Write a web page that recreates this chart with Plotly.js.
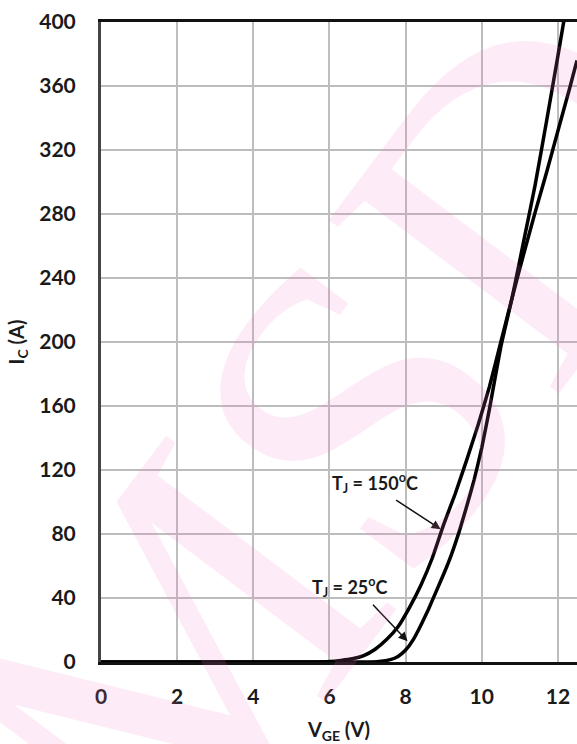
<!DOCTYPE html>
<html>
<head>
<meta charset="utf-8">
<script src="https://cdn.plot.ly/plotly-3.0.1.min.js"></script>
<style>
  html, body { margin: 0; padding: 0; background: #fff; }
  #chart { width: 577px; height: 744px; }
</style>
</head>
<body>
<div id="chart"></div>
<script>
// Gate-emitter voltage (V) and collector current (A), Tj = 150 °C
const vge150 = [0, 1, 2, 3, 4, 5, 5.5, 6.0, 6.3, 6.6, 6.9, 7.2, 7.5, 7.8, 8.1, 8.4, 8.7, 9.0, 9.3, 9.6, 9.9, 10.2, 10.5, 10.8, 11.1, 11.4, 11.7, 12.0, 12.3, 12.5];
const ic150  = [0, 0, 0, 0, 0, 0, 0, 0.3, 1, 2, 4, 8, 14, 22, 34, 48, 65, 86, 105, 126, 148, 172, 200, 228, 255, 281, 306, 332, 358, 376];

// Tj = 25 °C
const vge25 = [0, 1, 2, 3, 4, 5, 6, 7, 7.3, 7.6, 7.8, 8.0, 8.2, 8.4, 8.6, 8.8, 9.0, 9.2, 9.4, 9.6, 9.8, 10.0, 10.2, 10.5, 10.8, 11.1, 11.4, 11.7, 12.0, 12.2];
const ic25  = [0, 0, 0, 0, 0, 0, 0, 0, 0.3, 1.5, 3.5, 7.5, 14, 23, 33, 44, 55, 67, 81, 97, 114, 134, 158, 197, 228, 263, 298, 338, 379, 407];

const xTicks = [0, 2, 4, 6, 8, 10, 12];
const yTicks = [0, 40, 80, 120, 160, 200, 240, 280, 320, 360, 400];

const label150 = 'T<sub>J</sub> = 150<sup>o</sup>C';
const label25  = 'T<sub>J</sub> = 25<sup>o</sup>C';
const watermark = 'MSD';

const FONT = 'Lato, "Open Sans", sans-serif';

const traces = [
  { x: vge150, y: ic150, mode: 'lines', name: label150,
    line: { color: '#000', width: 3.5, shape: 'spline', smoothing: 0.4 }, hoverinfo: 'skip' },
  { x: vge25, y: ic25, mode: 'lines', name: label25,
    line: { color: '#000', width: 3.5, shape: 'spline', smoothing: 0.4 }, hoverinfo: 'skip' }
];

const layout = {
  width: 577, height: 744,
  margin: { l: 101, r: 0, t: 22, b: 82 },
  paper_bgcolor: '#fff', plot_bgcolor: '#fff',
  showlegend: false,
  font: { family: FONT, color: '#1a1a1a' },
  xaxis: {
    range: [0, 12.5], tickvals: xTicks, ticktext: xTicks.map(String),
    showgrid: true, gridcolor: '#bdbdbd', gridwidth: 2,
    zeroline: false, showline: true, linecolor: '#111', linewidth: 3, mirror: true,
    ticks: '', ticklabelstandoff: 14,
    tickfont: { family: FONT, size: 21, weight: 'bold', color: '#1a1a1a' },
    title: { text: 'V<sub>GE</sub> (V)', standoff: 16,
             font: { family: FONT, size: 20, weight: 'bold', color: '#1a1a1a' } }
  },
  yaxis: {
    range: [0, 400], tickvals: yTicks, ticktext: yTicks.map(String),
    showgrid: true, gridcolor: '#bdbdbd', gridwidth: 2,
    zeroline: false, showline: true, linecolor: '#444', linewidth: 3, mirror: true,
    ticks: '', ticklabelstandoff: 18,
    tickfont: { family: FONT, size: 21, weight: 'bold', color: '#1a1a1a' },
    title: { text: 'I<sub>C</sub> (A)', standoff: 10,
             font: { family: FONT, size: 20, weight: 'bold', color: '#1a1a1a' } }
  },
  annotations: [
    { x: 8.92, y: 83, xref: 'x', yref: 'y', text: '', showarrow: true,
      ax: -46, ay: -30, arrowhead: 2, arrowsize: 1.2, arrowwidth: 1.5, arrowcolor: '#111' },
    { x: 8.05, y: 13, xref: 'x', yref: 'y', text: '', showarrow: true,
      ax: -36, ay: -38, arrowhead: 2, arrowsize: 1.2, arrowwidth: 1.5, arrowcolor: '#111' },
    { x: 7.2, y: 112, xref: 'x', yref: 'y', text: label150, showarrow: false,
      font: { family: FONT, size: 18, weight: 'bold', color: '#1a1a1a' } },
    { x: 6.55, y: 47, xref: 'x', yref: 'y', text: label25, showarrow: false,
      font: { family: FONT, size: 18, weight: 'bold', color: '#1a1a1a' } },
    { x: 0.495, y: 0.345, xref: 'paper', yref: 'paper', text: watermark, showarrow: false,
      textangle: -53,
      font: { family: '"Liberation Serif", "DejaVu Serif", serif', size: 440, color: 'rgba(240,120,200,0.15)' } }
  ]
};

Plotly.newPlot('chart', traces, layout, { staticPlot: true, displayModeBar: false });
</script>
</body>
</html>
